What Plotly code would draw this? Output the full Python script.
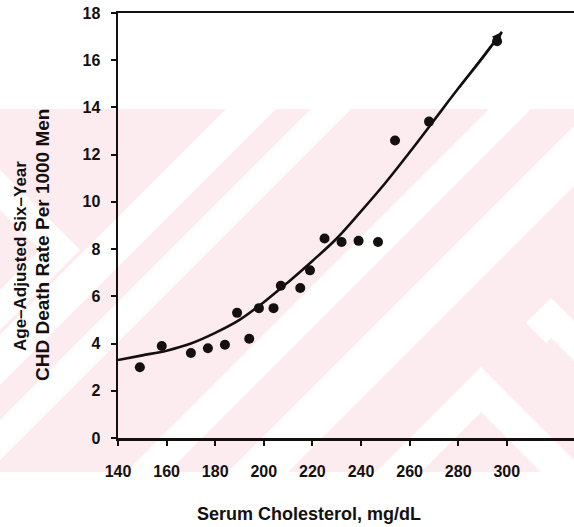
import plotly.graph_objects as go

# ---- data ----
chol = [149, 158, 170, 177, 184, 189, 194, 198, 204, 207, 215, 219, 225, 232, 239, 247, 254, 268, 296]
rate = [3.0, 3.9, 3.6, 3.8, 3.95, 5.3, 4.2, 5.5, 5.5, 6.45, 6.35, 7.1, 8.45, 8.3, 8.35, 8.3, 12.6, 13.4, 16.8]

fit_x = [140, 150, 160, 170, 180, 190, 200, 210, 220, 230, 240, 250, 260, 270, 280, 290, 298]
fit_y = [3.3, 3.5, 3.7, 4.0, 4.45, 5.0, 5.75, 6.6, 7.5, 8.45, 9.6, 10.8, 12.1, 13.45, 14.8, 16.1, 17.2]

x_ticks = [140, 160, 180, 200, 220, 240, 260, 280, 300]
y_ticks = [0, 2, 4, 6, 8, 10, 12, 14, 16, 18]

x_title = "Serum Cholesterol, mg/dL"
y_title_1 = "Age–Adjusted Six–Year"
y_title_2 = "CHD Death Rate Per 1000 Men"

# ---- layout geometry (page pixels; body margin removed by post_script) ----
W, H = 574, 527
PLOT_L, PLOT_T, PLOT_R, PLOT_B = 118, 13, 574, 438   # plot area in page pixels
L, T, R, B = PLOT_L, PLOT_T, W - PLOT_R, H - PLOT_B
X_MIN = 140
X_MAX = 140 + (PLOT_R - PLOT_L) / 2.43
INK = "#141010"
FONT = "Liberation Sans, Arial, sans-serif"

def pp(px, py):
    return (px - PLOT_L) / (PLOT_R - PLOT_L), (PLOT_B - py) / (PLOT_B - PLOT_T)

def poly(points):
    pts = [pp(*p) for p in points]
    return "M " + " L ".join(f"{x:.4f},{y:.4f}" for x, y in pts) + " Z"

shapes = []
# faint watermark backdrop (pink field with white diagonal bands / chevrons)
PT, PB = 109, 472
x0, y0 = pp(0, PT)
x1, y1 = pp(574, PB)
shapes.append(dict(type="rect", xref="paper", yref="paper", x0=x0, y0=y1, x1=x1, y1=y0,
                   fillcolor="#fcebef", line=dict(width=0), layer="below"))
white_polys = []
for a, b in [(335, 385), (420, 460), (598, 640), (700, 760)]:
    white_polys.append([(a - PT, PT), (b - PT, PT), (b - PB, PB), (a - PB, PB)])
# chevron at lower right
white_polys.append([(481, 367), (376, 472), (421, 472), (481, 412), (541, 472), (586, 472)])
# partial chevron at right edge
white_polys.append([(551, 298), (526, 323), (546, 343), (551, 338), (600, 387), (600, 347)])
# ">" chevron at the left edge
white_polys.append([(0, 170), (80, 250), (0, 330), (0, 290), (40, 250), (0, 210)])
for p in white_polys:
    shapes.append(dict(type="path", xref="paper", yref="paper", path=poly(p),
                       fillcolor="white", line=dict(width=0), layer="below"))

fig = go.Figure()
fig.add_trace(go.Scatter(x=fit_x, y=fit_y, mode="lines", line=dict(color=INK, width=2.6, shape="spline"),
                         hoverinfo="skip", showlegend=False))
fig.add_trace(go.Scatter(x=chol, y=rate, mode="markers",
                         marker=dict(color=INK, size=10, line=dict(width=0)), showlegend=False))

annotations = [
    dict(x=fit_x[-1], y=fit_y[-1], ax=fit_x[-3], ay=fit_y[-3], xref="x", yref="y", axref="x", ayref="y",
         text="", showarrow=True, arrowhead=2, arrowsize=1, arrowwidth=2, arrowcolor=INK),
    dict(text=f"<b>{x_title}</b>", xref="paper", yref="paper", x=pp(309, 0)[0], y=pp(0, 514)[1],
         showarrow=False, font=dict(family=FONT, size=18, color=INK), xanchor="center", yanchor="middle"),
    dict(text=f"<b>{y_title_1}</b>", xref="paper", yref="paper", x=pp(20, 0)[0], y=pp(0, 256)[1],
         showarrow=False, textangle=-90, font=dict(family=FONT, size=17, color=INK),
         xanchor="center", yanchor="middle"),
    dict(text=f"<b>{y_title_2}</b>", xref="paper", yref="paper", x=pp(42, 0)[0], y=pp(0, 245)[1],
         showarrow=False, textangle=-90, font=dict(family=FONT, size=19, color=INK),
         xanchor="center", yanchor="middle"),
]

axis_common = dict(showgrid=False, zeroline=False, tickcolor=INK, tickwidth=2, automargin=False)
tick_font = dict(size=16, family=FONT, color=INK)
fig.update_layout(
    width=W, height=H,
    margin=dict(l=L, r=R, t=T, b=B, pad=0),
    paper_bgcolor="white", plot_bgcolor="rgba(0,0,0,0)",
    font=dict(family=FONT, color=INK),
    shapes=shapes, annotations=annotations,
    xaxis=dict(range=[X_MIN, X_MAX], tickvals=x_ticks, ticktext=[f"<b>{v}</b>" for v in x_ticks],
               ticks="outside", ticklen=5, showline=True, linecolor=INK, linewidth=2.5, mirror=True,
               tickfont=tick_font, ticklabelstandoff=12, ticklabeloverflow="allow", **axis_common),
    yaxis=dict(range=[0, 18], tickvals=y_ticks, ticktext=[f"<b>{v}</b>" for v in y_ticks],
               ticks="outside", ticklen=5, showline=True, linecolor=INK, linewidth=2.5,
               tickfont=tick_font, ticklabelstandoff=7, ticklabeloverflow="allow", **axis_common),
    xaxis2=dict(overlaying="x", anchor="y", side="bottom", range=[X_MIN, X_MAX], tickvals=x_ticks,
                ticks="inside", ticklen=5, showticklabels=False, showline=False, **axis_common),
    yaxis2=dict(overlaying="y", anchor="x", side="left", range=[0, 18], tickvals=y_ticks,
                ticks="inside", ticklen=5, showticklabels=False, showline=False, **axis_common),
)

fig.write_html("out.html", config={"displayModeBar": False, "staticPlot": True},
               post_script="document.body.style.margin='0px';document.body.style.overflow='hidden';")
